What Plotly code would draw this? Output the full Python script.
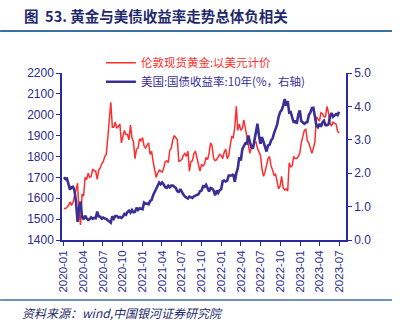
import pandas as pd
import plotly.graph_objects as go

# Weekly (Friday) observations, Jan 2020 - Jun 2023
dates = pd.date_range("2020-01-03", "2023-06-30", freq="W-FRI")

# London spot gold, USD/oz
gold_2020 = [1552, 1550, 1557, 1565, 1582, 1566, 1580, 1620, 1640, 1672, 1530, 1472, 1620,
             1610, 1700, 1690, 1720, 1700, 1705, 1740, 1730, 1730, 1690, 1735, 1745, 1765,
             1775, 1800, 1810, 1890, 1970, 2060, 1940, 1940, 1965, 1935, 1945, 1955, 1865,
             1900, 1925, 1905, 1905, 1880, 1950, 1890, 1870, 1790, 1835, 1840, 1885, 1875]
gold_2021 = [1890, 1850, 1840, 1855, 1865, 1810, 1825, 1775, 1735, 1700, 1720, 1735, 1730,
             1725, 1745, 1775, 1780, 1770, 1830, 1840, 1880, 1900, 1890, 1880, 1775, 1780,
             1785, 1805, 1815, 1800, 1825, 1730, 1775, 1780, 1815, 1825, 1790, 1755, 1730,
             1760, 1755, 1765, 1795, 1785, 1815, 1865, 1850, 1790, 1780, 1785, 1800, 1810, 1805]
gold_2022 = [1790, 1820, 1835, 1790, 1805, 1855, 1895, 1890, 1940, 2040, 1925, 1955,
             1925, 1935, 1975, 1935, 1895, 1875, 1815, 1845, 1850, 1865, 1870, 1840, 1825,
             1805, 1740, 1705, 1725, 1765, 1790, 1800, 1755, 1735, 1710, 1715, 1675, 1645, 1660,
             1705, 1650, 1640, 1645, 1635, 1770, 1750, 1755, 1800, 1790, 1790, 1800, 1815]
gold_2023 = [1865, 1900, 1925, 1930, 1875, 1865, 1840, 1815, 1840, 1870, 1990, 1980, 1970,
             2010, 2005, 1990, 1990, 2040, 2010, 1960, 1945, 1965, 1960, 1955, 1920, 1912]

# US Treasury 10-year yield, %
ust_2020 = [1.88, 1.82, 1.84, 1.70, 1.51, 1.58, 1.59, 1.47, 1.13, 0.54, 0.96, 1.15, 0.68,
            0.62, 0.73, 0.65, 0.60, 0.62, 0.68, 0.64, 0.66, 0.65, 0.85, 0.71, 0.70, 0.64,
            0.67, 0.64, 0.63, 0.59, 0.55, 0.52, 0.71, 0.64, 0.72, 0.72, 0.67, 0.69, 0.66,
            0.70, 0.78, 0.75, 0.84, 0.88, 0.82, 0.90, 0.83, 0.84, 0.97, 0.90, 0.95, 0.94]
ust_2021 = [0.92, 1.12, 1.09, 1.09, 1.07, 1.17, 1.20, 1.34, 1.44, 1.57, 1.63, 1.72, 1.67,
            1.72, 1.66, 1.58, 1.56, 1.63, 1.58, 1.63, 1.63, 1.58, 1.56, 1.46, 1.44, 1.52,
            1.43, 1.36, 1.30, 1.28, 1.24, 1.30, 1.28, 1.26, 1.31, 1.33, 1.34, 1.37, 1.46,
            1.48, 1.61, 1.59, 1.65, 1.55, 1.45, 1.56, 1.54, 1.48, 1.34, 1.48, 1.41, 1.49, 1.52]
ust_2022 = [1.76, 1.78, 1.75, 1.78, 1.93, 1.92, 1.93, 1.97, 1.74, 2.00, 2.15, 2.48,
            2.38, 2.72, 2.83, 2.90, 2.89, 3.13, 2.93, 2.78, 2.74, 2.96, 3.15, 3.48, 3.13,
            2.88, 3.08, 2.93, 2.77, 2.65, 2.83, 2.85, 2.98, 3.04, 3.20, 3.31, 3.45, 3.69, 3.83,
            3.89, 4.01, 4.22, 4.02, 4.16, 3.82, 3.83, 3.69, 3.51, 3.58, 3.48, 3.75, 3.88]
ust_2023 = [3.56, 3.51, 3.48, 3.52, 3.53, 3.74, 3.82, 3.95, 3.96, 3.70, 3.43, 3.38, 3.48,
            3.39, 3.52, 3.57, 3.44, 3.44, 3.46, 3.70, 3.80, 3.69, 3.74, 3.77, 3.74, 3.84]

gold = gold_2020 + gold_2021 + gold_2022 + gold_2023
ust10y = ust_2020 + ust_2021 + ust_2022 + ust_2023

RED = "#FF2D2D"
BLUE = "#3B2F96"
AXIS = "#2A2AA0"
NAVY = "#1F2A6E"
TICKFONT = dict(family="Liberation Sans, Arial", size=12, color="#2B2B8C")

fig = go.Figure()
fig.add_trace(go.Scatter(
    x=dates, y=gold, mode="lines", yaxis="y",
    line=dict(color=RED, width=1.5),
    name=f"<span style='color:{RED}'>伦敦现货黄金:以美元计价</span>",
))
fig.add_trace(go.Scatter(
    x=dates, y=ust10y, mode="lines", yaxis="y2",
    line=dict(color=BLUE, width=2.6),
    name=f"<span style='color:{BLUE}'>美国:国债收益率:10年(%，右轴)</span>",
))

fig.update_layout(
    width=400, height=330,
    margin=dict(l=62, r=54, t=73, b=90),
    paper_bgcolor="white", plot_bgcolor="white",
    showlegend=True,
    legend=dict(x=0.137, y=1.148, xanchor="left", yanchor="top",
                bgcolor="rgba(0,0,0,0)",
                font=dict(family="Noto Sans CJK SC", size=11.5),
                itemwidth=30, tracegroupgap=0),
    xaxis=dict(
        type="date", range=["2019-12-25", "2023-08-01"],
        tick0="2020-01-01", dtick="M3", tickformat="%Y-%m", tickangle=-90,
        showline=True, linecolor=AXIS, linewidth=1.5,
        ticks="outside", ticklen=4, tickcolor=AXIS,
        showgrid=False, zeroline=False,
        tickfont=dict(family="Liberation Sans, Arial", size=11.5, color="#2B2B8C"),
    ),
    yaxis=dict(
        range=[1400, 2200], dtick=100,
        showline=True, linecolor=AXIS, linewidth=1.5,
        ticks="outside", ticklen=4, tickcolor=AXIS,
        showgrid=False, zeroline=False, tickfont=TICKFONT,
    ),
    yaxis2=dict(
        range=[0, 5], dtick=1, tickformat=".1f",
        overlaying="y", side="right",
        showline=True, linecolor=AXIS, linewidth=1.5,
        ticks="outside", ticklen=4, tickcolor=AXIS,
        showgrid=False, zeroline=False, tickfont=TICKFONT,
    ),
)

# Header / footer rules
fig.add_shape(type="line", xref="paper", yref="paper",
              x0=-0.218, x1=1.162, y0=1.2515, y1=1.2515,
              line=dict(color="#3C6E9E", width=2))
fig.add_shape(type="line", xref="paper", yref="paper",
              x0=-0.218, x1=1.162, y0=-0.359, y1=-0.359,
              line=dict(color="#3C6E9E", width=1.5))

fig.add_annotation(
    text="<b>图&nbsp;&nbsp;53. 黄金与美债收益率走势总体负相关</b>",
    xref="paper", yref="paper", x=-0.141, y=1.347,
    xanchor="left", yanchor="middle", showarrow=False,
    font=dict(family="Noto Sans CJK SC", size=14.5, color=NAVY),
)
fig.add_annotation(
    text="<i>资料来源：wind,中国银河证券研究院</i>",
    xref="paper", yref="paper", x=-0.148, y=-0.437,
    xanchor="left", yanchor="middle", showarrow=False,
    font=dict(family="Noto Sans CJK SC", size=12, color=NAVY),
)

fig.write_html("out.html")
